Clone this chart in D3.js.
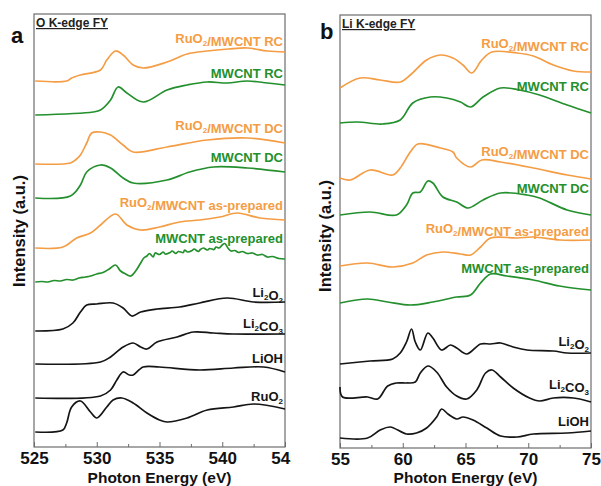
<!DOCTYPE html>
<html>
<head>
<meta charset="utf-8">
<script src="https://cdn.jsdelivr.net/npm/d3@7"></script>
<style>
    body { margin: 0; background: #fff; }
    svg { display: block; font-family: "Liberation Sans", Arial, sans-serif; font-weight: bold; }
</style>
</head>
<body>
<svg id="chart" width="601" height="486"></svg>
<script>
// ---- data: [photon energy (eV), intensity (a.u., offset stacked)] ----

// O K-edge FY
var oRuRC = [[525.1,36.6],[527.6,36.6],[528.0,36.9],[528.7,37.2],[530.3,37.7],[530.8,38.7],[531.5,39.6],[532.1,39.2],[532.9,38.2],[533.7,37.9],[535.6,38.5],[537.2,39.3],[538.8,39.6],[540.5,39.8],[542.0,39.9],[543.6,39.6],[545.0,39.5]];
var oCntRC = [[525.1,33.2],[529.7,33.5],[530.3,33.7],[531.1,34.7],[531.7,36.0],[532.4,35.4],[533.7,34.5],[535.6,35.7],[537.2,36.2],[538.8,36.5],[540.4,36.4],[542.0,36.6],[543.6,36.4],[545.0,36.2]];
var oRuDC = [[525.1,28.3],[527.9,28.4],[528.3,28.7],[528.7,29.2],[529.2,30.4],[529.6,31.4],[530.3,31.5],[531.1,31.2],[532.1,30.2],[532.9,29.5],[535.6,30.0],[538.8,30.7],[542.0,30.9],[545.0,30.4]];
var oCntDC = [[525.1,24.9],[527.9,25.1],[528.7,26.2],[529.2,27.5],[530.3,28.2],[531.1,27.9],[532.1,26.9],[532.9,26.4],[535.6,26.7],[537.4,27.5],[539.3,28.0],[542.0,27.9],[545.0,27.5]];
var oRuAP = [[525.1,19.9],[527.3,20.0],[528.4,20.9],[529.5,21.4],[530.3,22.2],[531.5,23.3],[532.4,22.2],[533.5,21.7],[535.0,22.0],[536.6,22.5],[538.2,22.7],[539.8,23.0],[541.2,23.4],[543.0,22.9],[545.0,22.7]];
var oCntAP = [[525.1,16.5],[525.6,16.55],[526.1,16.5],[526.6,16.65],[527.1,16.6],[527.6,16.75],[528.1,16.7],[528.6,16.9],[529.1,17.0],[529.5,17.1],[530.0,17.3],[530.5,17.45],[531.0,17.8],[531.5,18.2],[531.9,17.6],[532.3,17.3],[532.7,17.1],[533.1,17.6],
    [533.5,18.4],[533.75,18.9],[534.0,19.1],[534.2,19.35],[534.5,19.0],[534.65,19.4],[535.0,19.25],[535.3,19.5],[535.45,19.3],[535.85,19.45],[536.0,19.6],[536.3,19.35],[536.5,19.55],[536.9,19.45],[537.0,19.7],[537.25,19.5],[537.6,19.65],[537.75,19.8],[538.1,19.55],[538.25,19.75],[538.5,19.9],[538.8,19.7],[539.0,19.85],[539.35,19.75],[539.5,20.0],[539.75,19.9],[540.0,20.2],[540.2,20.35],[540.45,19.9],[540.7,19.6],[541.0,19.65],[541.3,19.45],[541.6,19.55],[542.0,19.35],[542.4,19.4],[542.8,19.2],[543.2,19.25],[543.6,19.0],[544.0,19.05],[544.5,18.85],[545.0,18.8]];
var oLi2O2 = [[525.1,11.6],[527.3,11.8],[528.1,12.4],[528.7,13.5],[529.2,14.2],[530.0,14.3],[531.3,14.4],[532.1,13.9],[532.8,13.1],[533.5,13.5],[534.8,13.8],[536.6,14.0],[538.2,14.4],[540.4,14.9],[542.5,14.5],[545.0,14.5]];
var oLi2CO3 = [[525.1,8.3],[530.3,8.5],[531.1,9.0],[532.1,10.0],[532.9,10.4],[533.5,10.0],[534.0,9.8],[534.8,10.5],[536.4,11.0],[537.7,11.5],[539.3,11.4],[540.9,11.3],[545.0,11.3]];
var oLiOH = [[525.1,4.9],[530.3,5.1],[531.1,5.7],[531.6,6.7],[532.1,7.5],[532.6,7.2],[532.9,7.2],[533.7,8.0],[535.0,8.0],[538.2,7.7],[540.9,7.9],[543.3,8.0],[545.0,7.5]];
var oRuO2 = [[525.1,1.5],[527.3,1.7],[527.6,2.4],[528.0,4.0],[528.7,4.6],[529.5,3.5],[530.0,2.9],[530.8,4.0],[531.3,4.7],[532.0,4.9],[532.9,4.4],[534.0,3.4],[535.0,2.7],[535.6,2.5],[537.2,2.9],[538.8,3.7],[540.9,4.0],[542.5,4.3],[545.0,3.8]];

// Li K-edge FY
var liRuRC = [[55.0,36.0],[56.6,37.0],[58.2,36.8],[59.8,36.6],[60.6,37.3],[61.9,38.8],[63.0,39.3],[64.0,39.0],[64.8,38.3],[65.5,37.5],[66.3,38.8],[67.1,39.6],[69.1,39.5],[70.4,39.2],[72.0,38.3],[73.6,37.7],[75.0,37.6]];
var liCntRC = [[55.0,32.5],[56.4,32.6],[58.4,32.4],[59.8,32.8],[60.8,34.5],[62.2,35.1],[63.5,35.0],[64.6,34.6],[65.4,34.1],[66.4,35.1],[67.8,36.0],[69.3,35.8],[70.9,35.3],[73.1,34.3],[75.0,33.5]];
var liRuDC = [[55.0,27.0],[55.8,26.8],[57.4,27.8],[59.2,27.3],[59.8,28.0],[60.6,29.6],[61.2,30.4],[63.0,30.0],[64.0,29.6],[64.3,29.0],[65.4,28.1],[66.3,28.8],[67.8,28.6],[70.4,28.0],[73.1,27.3],[75.0,26.9]];
var liCntDC = [[55.0,23.3],[57.4,23.6],[59.5,23.3],[60.3,24.3],[60.8,25.5],[61.4,25.6],[62.0,26.7],[62.4,26.5],[63.2,25.1],[64.3,24.6],[65.2,24.0],[66.4,24.8],[67.8,25.5],[69.9,25.3],[70.9,25.0],[73.1,23.8],[75.0,23.3]];
var liRuAP = [[55.0,18.2],[57.2,18.5],[59.2,18.1],[60.8,18.5],[61.9,19.3],[63.2,19.6],[64.6,19.4],[65.4,19.3],[66.2,20.1],[67.0,21.0],[69.1,21.0],[70.4,21.1],[72.5,20.8],[75.0,20.8]];
var liCntAP = [[55.0,14.5],[57.2,14.9],[58.8,14.6],[60.6,14.3],[62.4,14.6],[64.3,15.1],[65.4,15.3],[66.2,16.5],[67.0,17.4],[68.3,17.2],[70.4,16.8],[72.5,16.2],[75.0,15.8]];
var liLi2O2 = [[55.0,8.4],[57.4,8.7],[59.2,8.9],[59.8,9.5],[60.3,10.6],[60.7,11.9],[61.0,10.6],[61.4,9.8],[62.0,11.5],[62.4,11.0],[63.1,9.8],[63.8,10.3],[64.3,10.0],[65.1,9.4],[66.2,10.4],[67.0,10.4],[67.8,10.5],[68.8,10.1],[69.9,9.8],[72.0,9.7],[73.1,9.5],[75.0,9.5]];
var liLi2CO3 = [[55.0,6.1],[55.2,5.1],[57.2,5.1],[58.0,4.9],[58.8,6.2],[59.5,6.5],[60.3,6.5],[61.0,6.6],[61.4,7.5],[62.0,8.2],[62.7,7.6],[63.5,6.1],[64.3,5.2],[65.1,4.9],[65.9,5.8],[66.6,7.5],[67.1,7.8],[67.8,7.1],[68.8,6.0],[70.1,5.0],[70.9,4.7],[72.0,5.0],[73.6,5.0],[75.0,4.6]];
var liLiOH = [[55.0,1.0],[57.2,1.0],[58.2,1.8],[59.0,2.1],[60.3,1.4],[61.1,1.5],[61.9,2.0],[62.7,3.1],[63.1,3.9],[63.6,3.4],[64.3,2.9],[64.8,3.1],[65.6,2.8],[66.7,2.0],[67.8,1.2],[69.1,1.1],[70.4,1.4],[73.1,1.5],[75.0,1.7]];

// series names ("_2" = subscript 2)
var oNames = ["RuO_2/MWCNT RC", "MWCNT RC", "RuO_2/MWCNT DC", "MWCNT DC", "RuO_2/MWCNT as-prepared", "MWCNT as-prepared", "Li_2O_2", "Li_2CO_3", "LiOH", "RuO_2"];
var liNames = ["RuO_2/MWCNT RC", "MWCNT RC", "RuO_2/MWCNT DC", "MWCNT DC", "RuO_2/MWCNT as-prepared", "MWCNT as-prepared", "Li_2O_2", "Li_2CO_3", "LiOH"];
var xTicksO = [525, 530, 535, 540, 545];
var xTicksLi = [55, 60, 65, 70, 75];

(function (d3) {
    "use strict";
    var ORANGE = "#f49d45", GREEN = "#23902d", BLACK = "#151515";
    var svg = d3.select("#chart");

    // 标签位置 (a.u.)
    var panels = [
        {
            letter: "a", title: "O K-edge FY",
            box: {l: 34, r: 285, t: 14, b: 447}, clipR: 291,
            xDomain: [525, 545], yDomain: [0, 43.3], ticks: xTicksO,
            series: [oRuRC, oCntRC, oRuDC, oCntDC, oRuAP, oCntAP, oLi2O2, oLi2CO3, oLiOH, oRuO2],
            names: oNames,
            colors: [ORANGE, GREEN, ORANGE, GREEN, ORANGE, GREEN, BLACK, BLACK, BLACK, BLACK],
            labelY: [40.9, 37.4, 32.2, 29.0, 24.5, 20.9, 15.5, 12.4, 8.9, 5.1],
            letterPos: [11, 43], titleX: 159.5, yLabelX: 19, yLabelY: 231
        },
        {
            letter: "b", title: "Li K-edge FY",
            box: {l: 340, r: 591, t: 15, b: 448}, clipR: 601,
            xDomain: [55, 75], yDomain: [0, 43.3], ticks: xTicksLi,
            series: [liRuRC, liCntRC, liRuDC, liCntDC, liRuAP, liCntAP, liLi2O2, liLi2CO3, liLiOH],
            names: liNames,
            colors: [ORANGE, GREEN, ORANGE, GREEN, ORANGE, GREEN, BLACK, BLACK, BLACK],
            labelY: [40.5, 36.2, 29.7, 26.0, 22.0, 18.0, 10.7, 6.4, 2.7],
            letterPos: [320, 39], titleX: 465.5, yLabelX: 325, yLabelY: 236
        }
    ];

    panels.forEach(drawPanel);

    function drawPanel(p, idx) {
        var b = p.box;
        var clipId = "clip" + idx;
        svg.append("clipPath").attr("id", clipId)
            .append("rect").attr("x", 0).attr("y", 0).attr("width", p.clipR).attr("height", 486);
        var g = svg.append("g").attr("clip-path", "url(#" + clipId + ")");

        var x = d3.scaleLinear().domain(p.xDomain).range([b.l, b.r]);
        var y = d3.scaleLinear().domain(p.yDomain).range([b.b, b.t]);

        // 坐标轴 (ticks inward)
        var minor = d3.range(p.xDomain[0] + 2.5, p.xDomain[1], 5);
        g.append("g").attr("transform", "translate(0," + b.b + ")")
            .call(d3.axisBottom(x).tickValues(minor).tickSize(-3).tickFormat(""))
            .call(styleAxis);
        g.append("g").attr("transform", "translate(0," + b.b + ")")
            .call(d3.axisBottom(x).tickValues(p.ticks).tickSize(-5).tickPadding(5).tickFormat(d3.format("d")))
            .call(styleAxis)
            .selectAll("text").attr("font-size", 17).attr("font-weight", "bold").attr("fill", "#111")
            .attr("font-family", "'Liberation Sans', Arial, sans-serif");

        g.append("rect").attr("x", b.l).attr("y", b.t)
            .attr("width", b.r - b.l).attr("height", b.b - b.t)
            .attr("fill", "none").attr("stroke", "#6d6d6d").attr("stroke-width", 1.2);

        // 曲线
        var line = d3.line()
            .x(function (d) { return x(d[0]); })
            .y(function (d) { return y(d[1]); })
            .curve(d3.curveCatmullRom.alpha(0.5));
        g.selectAll(".spec").data(p.series).enter().append("path")
            .attr("class", "spec")
            .attr("d", line)
            .attr("fill", "none")
            .attr("stroke", function (d, i) { return p.colors[i]; })
            .attr("stroke-width", 1.7)
            .attr("stroke-linejoin", "round");

        // 曲线标签
        p.names.forEach(function (name, i) {
            var t = g.append("text")
                .attr("x", b.r - 2).attr("y", y(p.labelY[i]) + 4.5)
                .attr("text-anchor", "end").attr("font-size", 13)
                .attr("fill", p.colors[i]);
            addRich(t, name);
        });

        // 标题
        g.append("text").attr("x", b.l + 2).attr("y", b.t + 13)
            .attr("font-size", 12).attr("fill", "#222")
            .attr("text-decoration", "underline").text(p.title);

        g.append("text").attr("x", p.letterPos[0]).attr("y", p.letterPos[1])
            .attr("font-size", 22).attr("fill", "#111").text(p.letter);

        g.append("text").attr("x", p.titleX).attr("y", 482.5)
            .attr("text-anchor", "middle").attr("font-size", 15.5).attr("fill", "#111")
            .text("Photon Energy (eV)");

        g.append("text")
            .attr("transform", "translate(" + (p.yLabelX + 6) + "," + p.yLabelY + ") rotate(-90)")
            .attr("text-anchor", "middle").attr("font-size", 16.5).attr("fill", "#111")
            .text("Intensity (a.u.)");
    }

    function styleAxis(sel) {
        sel.select(".domain").remove();
        sel.selectAll("line").attr("stroke", "#6d6d6d").attr("stroke-width", 1);
    }

    // "_2" -> subscript
    function addRich(t, str) {
        var parts = str.split(/_(\d)/);
        parts.forEach(function (s, k) {
            if (!s) return;
            if (k % 2 === 1) {
                t.append("tspan").attr("font-size", 8).attr("dy", 3).text(s);
                t.append("tspan").attr("dy", -3).text("");
            } else {
                t.append("tspan").text(s);
            }
        });
    }
})(d3);
</script>
</body>
</html>
